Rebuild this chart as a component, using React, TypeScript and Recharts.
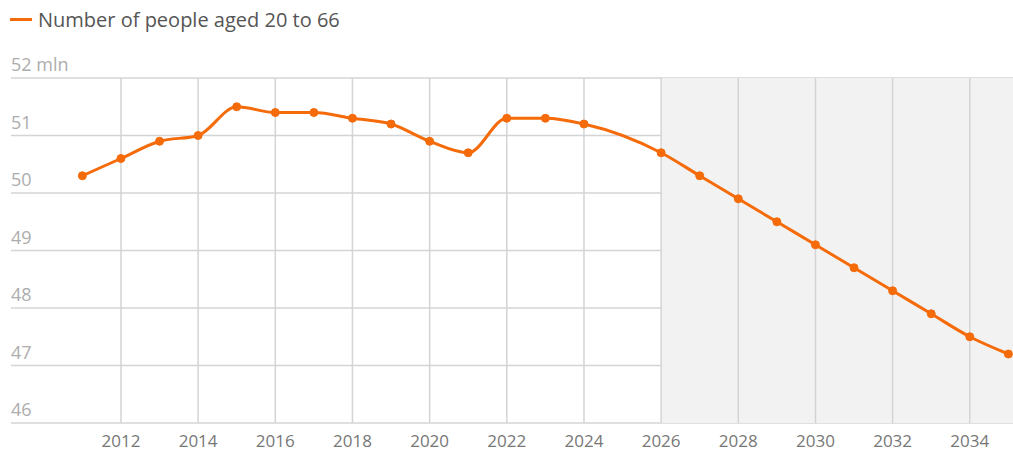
import { LineChart, Line, XAxis, YAxis, CartesianGrid, ReferenceArea, ReferenceLine } from "recharts";

const years = [
  2011, 2012, 2013, 2014, 2015, 2016, 2017, 2018, 2019, 2020, 2021, 2022, 2023,
  2024, 2026, 2027, 2028, 2029, 2030, 2031, 2032, 2033, 2034, 2035,
];
const people = [
  50.3, 50.6, 50.9, 51.0, 51.5, 51.4, 51.4, 51.3, 51.2, 50.9, 50.7, 51.3, 51.3,
  51.2, 50.7, 50.3, 49.9, 49.5, 49.1, 48.7, 48.3, 47.9, 47.5, 47.2,
];
const yearTicks = [2012, 2014, 2016, 2018, 2020, 2022, 2024, 2026, 2028, 2030, 2032, 2034];
const valueTicks = [46, 47, 48, 49, 50, 51, 52];
const forecastStart = 2026;

const ORANGE = "#f56b0a";
const GRID = "#d4d4d4";
const FONT = "'Open Sans', sans-serif";
const X_MIN = 2009.15;
const X_MAX = 2035.12;

const data = years.map((year, i) => ({ year, value: people[i] }));

const renderYTick = (props: any) => {
  const { y, payload } = props;
  return (
    <text x={11} y={y - 7} fill="#adadad" fontSize={18} fontFamily={FONT}>
      {payload.value === 52 ? "52 mln" : payload.value}
    </text>
  );
};

export default function App() {
  return (
    <div style={{ position: "relative", width: 1013, height: 452 }}>
      <style>{"body{margin:0}"}</style>
      <div
        style={{
          position: "absolute",
          left: 10,
          top: 6,
          display: "flex",
          alignItems: "center",
          fontFamily: FONT,
          fontSize: 20,
          color: "#555555",
          whiteSpace: "nowrap",
        }}
      >
        <span style={{ display: "inline-block", width: 22, height: 3, background: ORANGE, marginRight: 6 }} />
        Number of people aged 20 to 66
      </div>
      <LineChart width={1013} height={452} data={data} margin={{ top: 78, right: 0, bottom: 0, left: 10 }}>
        <ReferenceArea x1={forecastStart} x2={X_MAX} y1={46} y2={52} fill="#f2f2f2" fillOpacity={1} stroke="none" />
        <CartesianGrid stroke={GRID} strokeWidth={1.5} vertical={false} horizontalValues={valueTicks} />
        {yearTicks.map((t) => (
          <ReferenceLine key={t} x={t} stroke={GRID} strokeWidth={1.5} />
        ))}
        <XAxis
          dataKey="year"
          type="number"
          domain={[X_MIN, X_MAX]}
          ticks={yearTicks}
          allowDataOverflow
          axisLine={false}
          tickLine={false}
          height={29}
          tick={{ fill: "#777777", fontSize: 17, fontFamily: FONT }}
          tickMargin={6}
        />
        <YAxis
          type="number"
          domain={[46, 52]}
          ticks={valueTicks}
          width={1}
          interval={0}
          axisLine={false}
          tickLine={false}
          tick={renderYTick}
        />
        <Line
          type="monotone"
          dataKey="value"
          stroke={ORANGE}
          strokeWidth={3}
          dot={{ r: 4, fill: ORANGE, stroke: ORANGE, strokeWidth: 1 }}
          isAnimationActive={false}
        />
      </LineChart>
    </div>
  );
}
